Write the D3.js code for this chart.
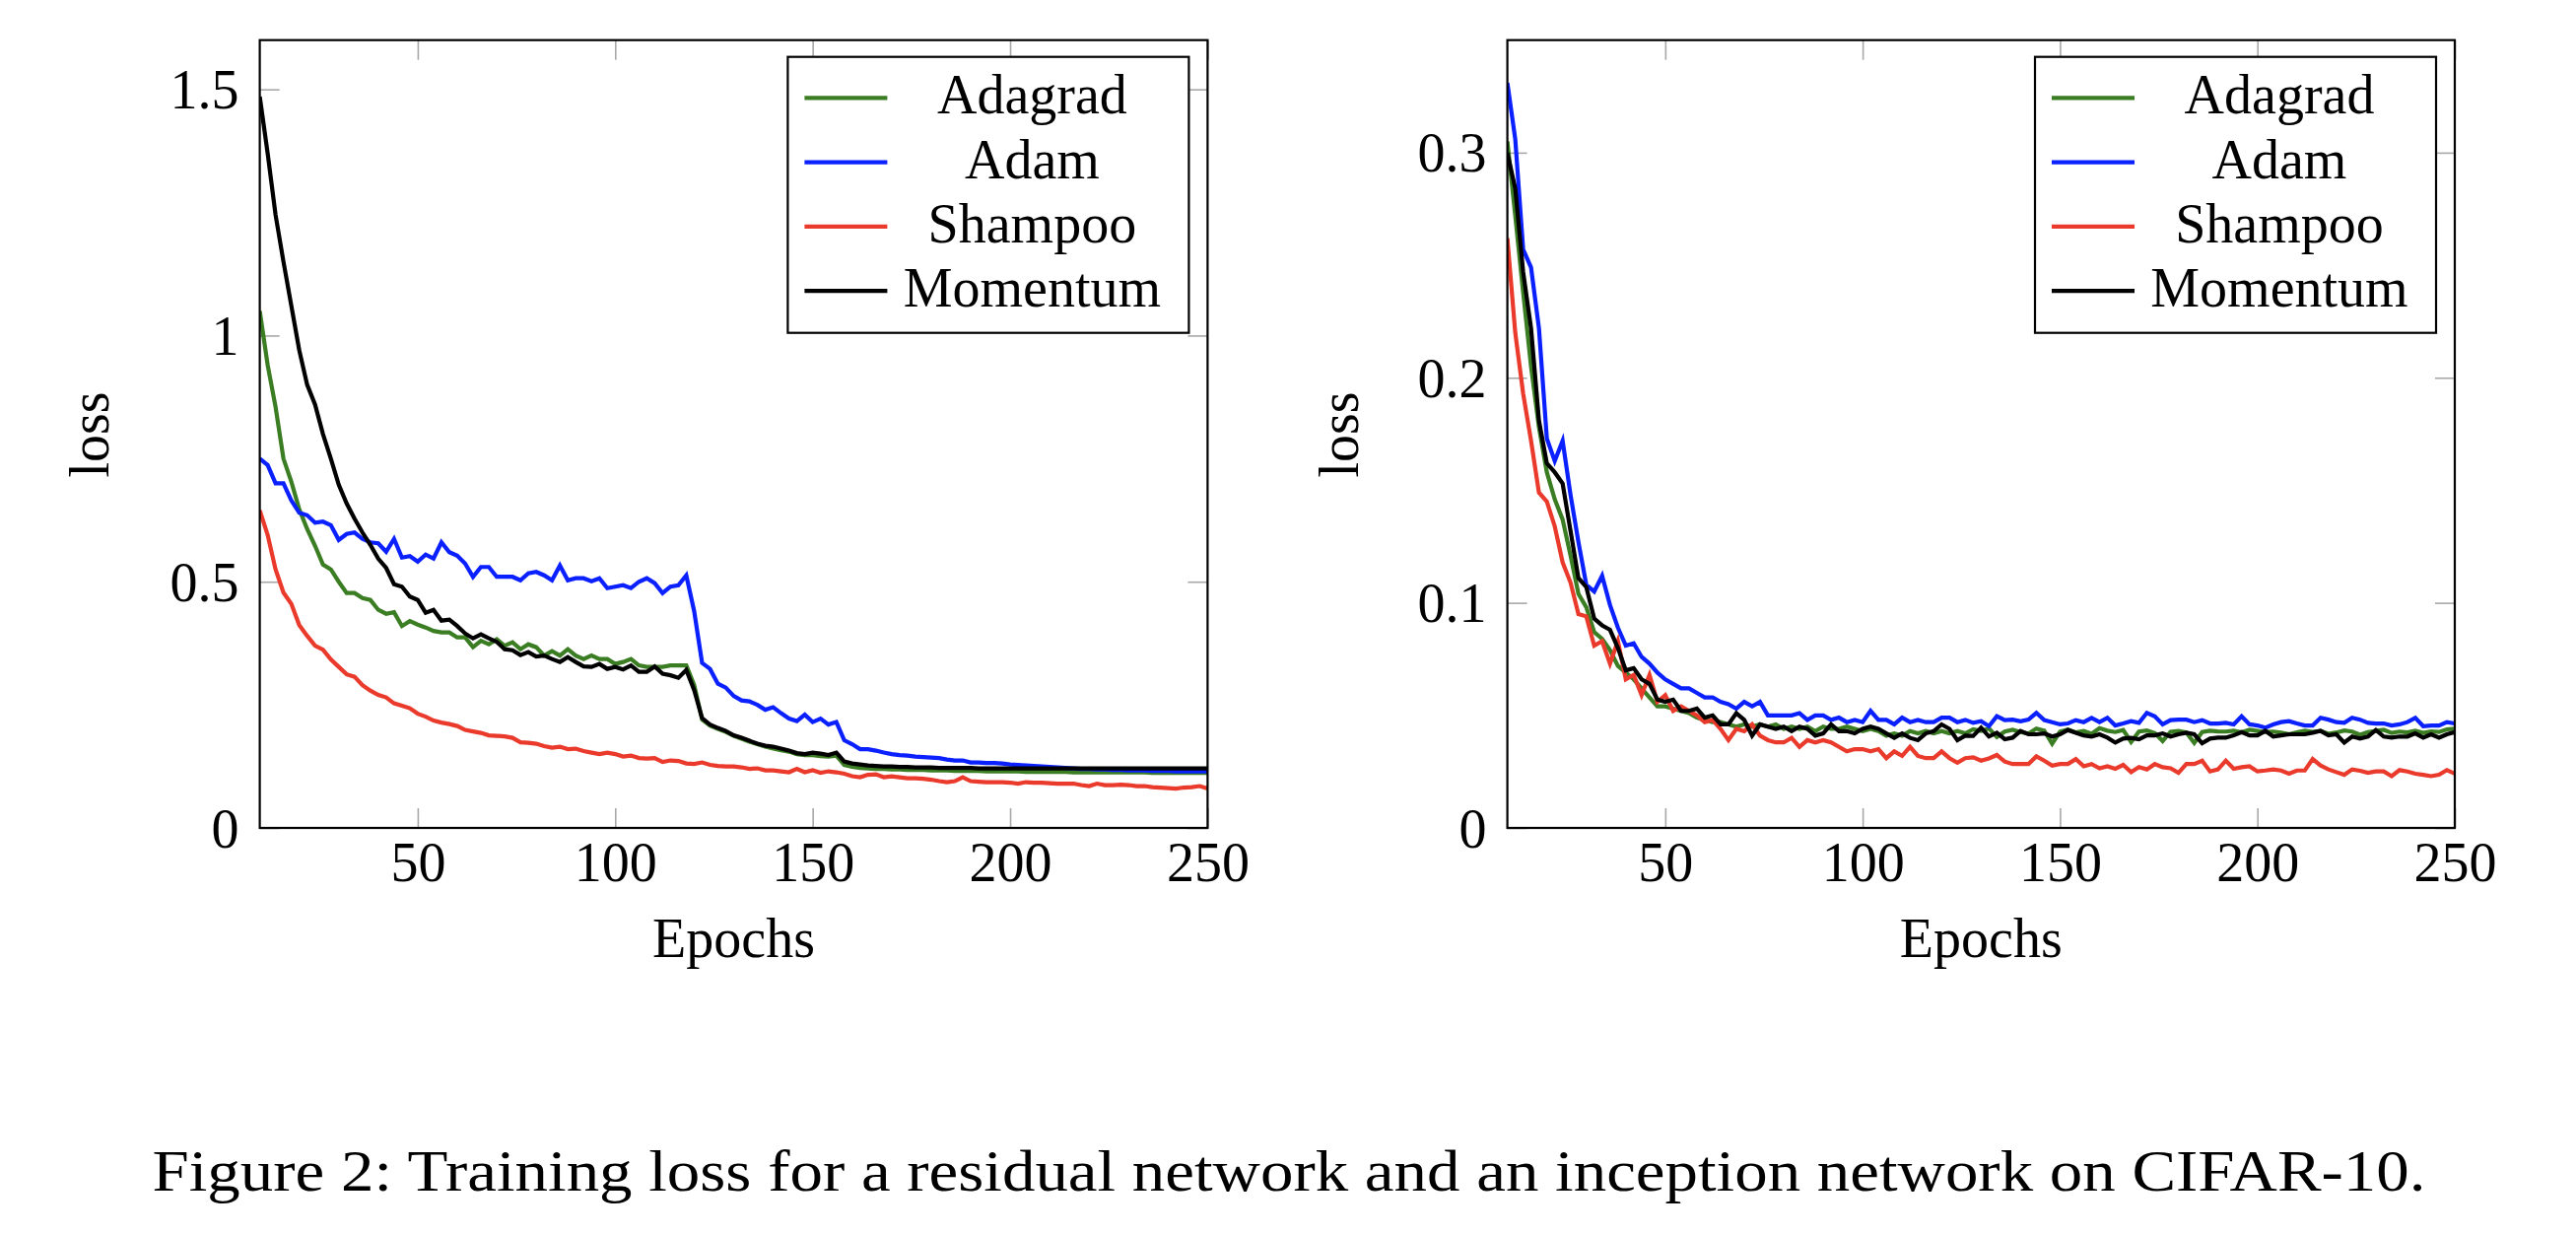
<!DOCTYPE html>
<html>
<head>
<meta charset="utf-8">
<script src="https://cdn.jsdelivr.net/npm/d3@7"></script>
<style>
html,body{margin:0;padding:0;background:#fff;}
svg{display:block;}
text{font-family:"Liberation Serif","Times New Roman",serif;fill:#000;}
</style>
</head>
<body>
<svg id="chart" width="2614" height="1252"></svg>
<script>
// ---------- DATA ----------
const epochs = d3.range(10, 251, 2); // 10,12,...,250
const seriesNames = ["Adagrad", "Adam", "Shampoo", "Momentum"];
const xTicks = [50, 100, 150, 200, 250];
const xTickLabels = ["50", "100", "150", "200", "250"];
const yTicksLeft = [0, 0.5, 1, 1.5];
const yTickLabelsLeft = ["0", "0.5", "1", "1.5"];
const yTicksRight = [0, 0.1, 0.2, 0.3];
const yTickLabelsRight = ["0", "0.1", "0.2", "0.3"];
const xLabel = "Epochs";
const yLabel = "loss";
const caption = "Figure 2: Training loss for a residual network and an inception network on CIFAR-10.";

// Left panel: residual network
const resAdagrad = [
1.05,0.94,0.855,0.75,0.703,0.647,0.607,0.573,0.535,0.525,
0.50,0.477,0.477,0.467,0.463,0.443,0.435,0.438,0.41,0.42,
0.413,0.407,0.40,0.397,0.397,0.387,0.387,0.367,0.38,0.373,
0.383,0.37,0.377,0.363,0.373,0.367,0.35,0.359,0.35,0.363,
0.35,0.343,0.35,0.343,0.343,0.333,0.337,0.343,0.33,0.327,
0.327,0.327,0.33,0.33,0.33,0.29,0.22,0.208,0.201,0.195,
0.187,0.181,0.175,0.17,0.165,0.161,0.158,0.155,0.15,0.148,
0.148,0.146,0.145,0.147,0.128,0.124,0.122,0.121,0.12,0.12,
0.119,0.119,0.118,0.118,0.118,0.117,0.117,0.117,0.116,0.116,
0.116,0.116,0.115,0.115,0.115,0.115,0.115,0.114,0.114,0.114,
0.114,0.114,0.114,0.113,0.113,0.113,0.113,0.113,0.113,0.113,
0.113,0.113,0.113,0.112,0.112,0.112,0.112,0.112,0.112,0.112,
0.112];
const resAdam = [
0.75,0.737,0.70,0.70,0.665,0.64,0.635,0.62,0.622,0.615,
0.585,0.597,0.60,0.587,0.58,0.578,0.561,0.587,0.549,0.552,
0.541,0.555,0.547,0.58,0.56,0.553,0.537,0.51,0.53,0.53,
0.51,0.51,0.51,0.503,0.517,0.52,0.513,0.503,0.533,0.503,
0.507,0.507,0.501,0.507,0.487,0.49,0.493,0.487,0.50,0.507,
0.497,0.477,0.49,0.493,0.513,0.44,0.335,0.323,0.293,0.285,
0.268,0.259,0.257,0.25,0.24,0.245,0.233,0.222,0.217,0.23,
0.215,0.222,0.21,0.215,0.178,0.17,0.16,0.16,0.157,0.153,
0.15,0.148,0.147,0.145,0.144,0.143,0.142,0.139,0.137,0.137,
0.133,0.133,0.132,0.132,0.131,0.129,0.128,0.127,0.126,0.125,
0.124,0.123,0.122,0.121,0.12,0.12,0.119,0.119,0.118,0.118,
0.117,0.117,0.117,0.116,0.116,0.116,0.115,0.115,0.115,0.115,
0.115];
const resShampoo = [
0.645,0.595,0.525,0.478,0.455,0.412,0.39,0.37,0.362,0.342,
0.327,0.312,0.307,0.29,0.279,0.27,0.265,0.253,0.248,0.243,
0.232,0.226,0.218,0.214,0.211,0.207,0.199,0.196,0.193,0.188,
0.187,0.186,0.183,0.174,0.173,0.171,0.166,0.163,0.165,0.16,
0.161,0.156,0.153,0.15,0.153,0.15,0.145,0.147,0.142,0.141,
0.142,0.134,0.137,0.136,0.131,0.13,0.133,0.128,0.126,0.125,
0.125,0.123,0.12,0.121,0.117,0.117,0.115,0.113,0.12,0.113,
0.117,0.112,0.115,0.113,0.11,0.105,0.103,0.108,0.109,0.103,
0.105,0.103,0.101,0.101,0.1,0.098,0.095,0.093,0.095,0.103,
0.095,0.094,0.093,0.093,0.093,0.092,0.09,0.093,0.092,0.092,
0.091,0.09,0.09,0.09,0.087,0.085,0.09,0.087,0.087,0.088,
0.087,0.085,0.085,0.083,0.082,0.081,0.08,0.082,0.083,0.085,
0.08];
const resMomentum = [
1.485,1.37,1.245,1.15,1.06,0.97,0.90,0.86,0.80,0.75,
0.697,0.659,0.628,0.60,0.575,0.547,0.528,0.495,0.49,0.47,
0.463,0.437,0.443,0.421,0.423,0.41,0.395,0.385,0.393,0.385,
0.378,0.363,0.361,0.351,0.357,0.348,0.35,0.343,0.337,0.347,
0.337,0.328,0.327,0.333,0.323,0.327,0.322,0.33,0.317,0.317,
0.328,0.313,0.31,0.305,0.321,0.28,0.223,0.21,0.203,0.197,
0.188,0.183,0.177,0.171,0.167,0.165,0.161,0.157,0.152,0.15,
0.153,0.151,0.148,0.153,0.135,0.131,0.129,0.127,0.126,0.125,
0.125,0.124,0.124,0.123,0.123,0.123,0.122,0.122,0.122,0.122,
0.122,0.121,0.121,0.121,0.121,0.121,0.121,0.121,0.121,0.121,
0.121,0.121,0.121,0.121,0.121,0.121,0.121,0.121,0.121,0.121,
0.121,0.121,0.121,0.121,0.121,0.121,0.121,0.121,0.121,0.121,
0.121];

// Right panel: inception network
const incAdagrad = [
0.305,0.272,0.238,0.205,0.178,0.158,0.146,0.137,0.121,0.104,
0.098,0.087,0.084,0.079,0.072,0.069,0.066,0.062,0.058,0.054,
0.054,0.053,0.052,0.051,0.049,0.048,0.047,0.047,0.046,0.045,
0.046,0.045,0.046,0.045,0.046,0.044,0.045,0.044,0.045,0.043,
0.045,0.044,0.044,0.045,0.044,0.043,0.044,0.043,0.041,0.042,
0.041,0.043,0.042,0.043,0.042,0.043,0.042,0.043,0.042,0.0438,
0.0431,0.0442,0.0404,0.0428,0.0436,0.0426,0.0419,0.0441,0.0432,0.0374,
0.0428,0.0437,0.0424,0.0431,0.0418,0.0443,0.0432,0.0426,0.0435,0.0382,
0.0428,0.0433,0.0421,0.0386,0.0427,0.0431,0.0424,0.0378,0.0426,0.0432,
0.0429,0.0428,0.0432,0.0425,0.0436,0.0431,0.0426,0.0428,0.0423,0.0416,
0.0425,0.0432,0.0427,0.0431,0.0418,0.0424,0.0433,0.0428,0.0414,0.0426,
0.0431,0.0436,0.0422,0.0428,0.0424,0.0432,0.0422,0.0429,0.0426,0.0438,
0.0441];
const incAdam = [
0.331,0.306,0.257,0.249,0.222,0.173,0.163,0.172,0.148,0.127,
0.108,0.105,0.112,0.099,0.089,0.081,0.082,0.076,0.073,0.069,
0.066,0.064,0.062,0.062,0.060,0.058,0.058,0.056,0.055,0.053,
0.056,0.054,0.056,0.050,0.050,0.050,0.050,0.051,0.048,0.050,
0.050,0.048,0.049,0.047,0.048,0.047,0.052,0.048,0.048,0.046,
0.049,0.047,0.048,0.047,0.047,0.049,0.049,0.047,0.048,0.0467,
0.0474,0.0452,0.0496,0.0479,0.0481,0.0474,0.0481,0.0511,0.0479,0.047,
0.046,0.0464,0.0479,0.047,0.0489,0.047,0.0489,0.0455,0.0464,0.0474,
0.0467,0.0511,0.0496,0.046,0.0479,0.0481,0.0481,0.047,0.0479,0.0464,
0.0464,0.0467,0.046,0.0496,0.046,0.0455,0.0445,0.046,0.047,0.0474,
0.0464,0.0455,0.0455,0.0489,0.0481,0.047,0.0467,0.0489,0.0481,0.0467,
0.0464,0.0464,0.0455,0.046,0.047,0.0489,0.0452,0.0455,0.0455,0.047,
0.0464];
const incShampoo = [
0.262,0.22,0.193,0.172,0.149,0.145,0.134,0.118,0.109,0.095,
0.094,0.081,0.083,0.073,0.083,0.066,0.068,0.059,0.068,0.056,
0.059,0.052,0.054,0.052,0.050,0.047,0.048,0.044,0.039,0.044,
0.043,0.046,0.041,0.039,0.038,0.038,0.040,0.036,0.039,0.038,
0.039,0.038,0.036,0.034,0.035,0.035,0.034,0.035,0.031,0.034,
0.032,0.036,0.032,0.031,0.031,0.034,0.031,0.029,0.031,0.0314,
0.0299,0.0309,0.0324,0.0295,0.0284,0.0284,0.0284,0.0318,0.0299,0.0277,
0.0284,0.0284,0.0306,0.0274,0.0284,0.0265,0.0274,0.0263,0.028,0.0248,
0.027,0.026,0.0284,0.027,0.0265,0.0245,0.0284,0.0284,0.0299,0.0251,
0.026,0.0299,0.0263,0.027,0.0274,0.0251,0.0255,0.026,0.0255,0.0241,
0.0255,0.0255,0.0306,0.0277,0.026,0.0248,0.0236,0.026,0.0254,0.0245,
0.0251,0.0251,0.023,0.0257,0.0251,0.0241,0.0236,0.023,0.0236,0.0257,
0.0241];
const incMomentum = [
0.30,0.284,0.247,0.222,0.181,0.162,0.158,0.153,0.132,0.111,
0.107,0.093,0.090,0.088,0.080,0.070,0.071,0.066,0.064,0.057,
0.056,0.057,0.052,0.052,0.053,0.049,0.050,0.046,0.046,0.051,
0.048,0.041,0.046,0.045,0.044,0.045,0.043,0.045,0.044,0.041,
0.042,0.046,0.043,0.043,0.042,0.044,0.045,0.044,0.042,0.040,
0.042,0.040,0.039,0.042,0.043,0.046,0.044,0.039,0.041,0.0409,
0.0445,0.0406,0.0423,0.0394,0.0401,0.0431,0.0416,0.0416,0.042,0.0406,
0.0416,0.0435,0.0423,0.0411,0.0406,0.0416,0.0401,0.0379,0.0397,0.04,
0.0394,0.0411,0.0411,0.042,0.0406,0.0416,0.0423,0.0416,0.0376,0.0397,
0.0401,0.0401,0.0411,0.0426,0.0411,0.0411,0.0431,0.0406,0.0411,0.0416,
0.0416,0.0416,0.0423,0.0431,0.0411,0.0416,0.0379,0.0406,0.0397,0.0406,
0.0435,0.0406,0.0401,0.0406,0.0406,0.042,0.0401,0.0416,0.0401,0.0416,
0.0426];

// ---------- STYLE / LAYOUT ----------
const colors = ["#3b7d23", "#0a20ff", "#ea3a2c", "#000000"];
const FONT = 56;
const svg = d3.select("#chart");

const panels = [
  {x0: 263.6, x1: 1225.4, y0: 40.7, y1: 840, ymax: 1.6,
   yTicks: yTicksLeft, yTickLabels: yTickLabelsLeft,
   series: [resAdagrad, resAdam, resShampoo, resMomentum], ylabelX: 110},
  {x0: 1529.6, x1: 2491, y0: 40.7, y1: 840, ymax: 0.35,
   yTicks: yTicksRight, yTickLabels: yTickLabelsRight,
   series: [incAdagrad, incAdam, incShampoo, incMomentum], ylabelX: 1378}
];

panels.forEach((p, pi) => {
  const x = d3.scaleLinear().domain([10, 250]).range([p.x0, p.x1]);
  const y = d3.scaleLinear().domain([0, p.ymax]).range([p.y1, p.y0]);
  const g = svg.append("g");
  const TL = 20;

  // ticks (inside, mirrored on all four sides)
  const axB = g.append("g").attr("transform", `translate(0,${p.y1})`)
    .call(d3.axisBottom(x).tickValues(xTicks).tickSizeInner(-TL).tickSizeOuter(0).tickPadding(0)
      .tickFormat((d, i) => xTickLabels[i]));
  const axT = g.append("g").attr("transform", `translate(0,${p.y0})`)
    .call(d3.axisTop(x).tickValues(xTicks).tickSizeInner(-TL).tickSizeOuter(0).tickFormat(""));
  const axL = g.append("g").attr("transform", `translate(${p.x0},0)`)
    .call(d3.axisLeft(y).tickValues(p.yTicks).tickSizeInner(-TL).tickSizeOuter(0).tickPadding(21)
      .tickFormat((d, i) => p.yTickLabels[i]));
  const axR = g.append("g").attr("transform", `translate(${p.x1},0)`)
    .call(d3.axisRight(y).tickValues(p.yTicks).tickSizeInner(-TL).tickSizeOuter(0).tickFormat(""));

  [axB, axT, axL, axR].forEach(a => {
    a.select(".domain").remove();
    a.selectAll(".tick line").attr("stroke", "#a8a8a8").attr("stroke-width", 1.6);
    a.selectAll("text").attr("font-family", "Liberation Serif, serif").attr("font-size", FONT).attr("fill", "#000");
  });
  axB.selectAll(".tick text").attr("y", 54).attr("dy", null);
  axL.selectAll(".tick text").attr("dy", null).attr("y", 19);

  // clip
  const cid = "clip" + pi;
  svg.append("clipPath").attr("id", cid).append("rect")
    .attr("x", p.x0).attr("y", p.y0).attr("width", p.x1 - p.x0).attr("height", p.y1 - p.y0);

  const line = d3.line().x((d, i) => x(epochs[i])).y(d => y(d));
  const lg = g.append("g").attr("clip-path", `url(#${cid})`);
  p.series.forEach((s, si) => {
    lg.append("path").datum(s)
      .attr("d", line)
      .attr("fill", "none")
      .attr("stroke", colors[si])
      .attr("stroke-width", 4.2)
      .attr("stroke-linejoin", "miter")
      .attr("stroke-miterlimit", 4);
  });

  // frame
  g.append("rect").attr("x", p.x0).attr("y", p.y0)
    .attr("width", p.x1 - p.x0).attr("height", p.y1 - p.y0)
    .attr("fill", "none").attr("stroke", "#000").attr("stroke-width", 2.2);

  // axis labels
  g.append("text").attr("x", (p.x0 + p.x1) / 2).attr("y", 971)
    .attr("text-anchor", "middle").attr("font-size", FONT).text(xLabel);
  g.append("text").attr("transform", `translate(${p.ylabelX},441) rotate(-90)`)
    .attr("text-anchor", "middle").attr("font-size", FONT).text(yLabel);

  // legend
  const lw = 407, lh = 280;
  const lx = p.x1 - 19 - lw, ly = p.y0 + 17;
  const leg = g.append("g").attr("transform", `translate(${lx},${ly})`);
  leg.append("rect").attr("width", lw).attr("height", lh)
    .attr("fill", "#fff").attr("stroke", "#000").attr("stroke-width", 2.2);
  seriesNames.forEach((n, i) => {
    const ry = 41.6 + i * 65.3;
    leg.append("line").attr("x1", 17).attr("x2", 101).attr("y1", ry).attr("y2", ry)
      .attr("stroke", colors[i]).attr("stroke-width", 4.2);
    leg.append("text").attr("x", 248).attr("y", ry + 16)
      .attr("text-anchor", "middle").attr("font-size", FONT).text(n);
  });
});

// caption
svg.append("text").attr("x", 1308).attr("y", 1208)
  .attr("text-anchor", "middle").attr("font-size", 60)
  .attr("textLength", 2307).attr("lengthAdjust", "spacingAndGlyphs")
  .text(caption);
</script>
</body>
</html>
